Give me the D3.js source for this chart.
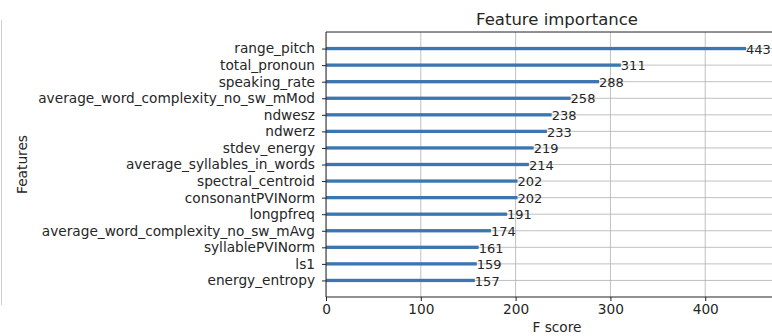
<!DOCTYPE html>
<html>
<head>
<meta charset="utf-8">
<script src="https://cdn.jsdelivr.net/npm/d3@7"></script>
<style>
  html, body { margin: 0; padding: 0; background: #fff; }
  svg { display: block; font-family: "DejaVu Sans", sans-serif; }
</style>
</head>
<body>
<svg id="chart" width="772" height="336"></svg>
<script>
// Feature names, top to bottom
const features = [
  "range_pitch", "total_pronoun", "speaking_rate",
  "average_word_complexity_no_sw_mMod", "ndwesz", "ndwerz",
  "stdev_energy", "average_syllables_in_words", "spectral_centroid",
  "consonantPVINorm", "longpfreq", "average_word_complexity_no_sw_mAvg",
  "syllablePVINorm", "ls1", "energy_entropy"
];
// F score per feature
const scores = [443, 311, 288, 258, 238, 233, 219, 214, 202, 202, 191, 174, 161, 159, 157];
const xTicks = [0, 100, 200, 300, 400];

const svg = d3.select("#chart");
const m = { left: 326, top: 32, right: 788, bottom: 297 };
const textColor = "#262626";
const gridColor = "#b0b0b0";
const fs = 13.7;

const x = d3.scaleLinear().domain([0, d3.max(scores) * 1.1]).range([m.left, m.right]);
// Index positions with one unit of padding on either end
const y = d3.scaleLinear().domain([-1, features.length]).range([m.top, m.bottom]);

// Thin divider on the far left
svg.append("line")
  .attr("x1", 1.5).attr("x2", 1.5).attr("y1", 20).attr("y2", 305)
  .attr("stroke", "#cfcfcf").attr("stroke-width", 1);

svg.append("defs").append("clipPath").attr("id", "plot-clip")
  .append("rect").attr("x", m.left).attr("y", m.top)
  .attr("width", m.right - m.left).attr("height", m.bottom - m.top);

const plot = svg.append("g").attr("clip-path", "url(#plot-clip)");

// Grid
plot.selectAll("line.vgrid").data(xTicks).join("line")
  .attr("class", "vgrid")
  .attr("x1", d => x(d)).attr("x2", d => x(d))
  .attr("y1", m.top).attr("y2", m.bottom)
  .attr("stroke", gridColor).attr("stroke-width", 0.8);
plot.selectAll("line.hgrid").data(features).join("line")
  .attr("class", "hgrid")
  .attr("x1", m.left).attr("x2", m.right)
  .attr("y1", (d, i) => y(i)).attr("y2", (d, i) => y(i))
  .attr("stroke", gridColor).attr("stroke-width", 0.8);

// Bars (height 0.2 units)
const barH = Math.abs(y(0.2) - y(0));
plot.selectAll("rect.bar").data(scores).join("rect")
  .attr("class", "bar")
  .attr("x", x(0))
  .attr("y", (d, i) => y(i) - barH / 2)
  .attr("width", d => x(d) - x(0))
  .attr("height", barH)
  .attr("fill", "#3b76b0");

// Value labels
svg.selectAll("text.val").data(scores).join("text")
  .attr("class", "val")
  .attr("x", d => x(d))
  .attr("y", (d, i) => y(i))
  .attr("dy", "0.4em")
  .attr("font-size", 13)
  .attr("fill", textColor)
  .text(d => d);

// Spines (left, top, bottom)
svg.append("line").attr("x1", m.left).attr("x2", m.left).attr("y1", m.top).attr("y2", m.bottom)
  .attr("stroke", "#222").attr("stroke-width", 1);
svg.append("line").attr("x1", m.left).attr("x2", m.right).attr("y1", m.top).attr("y2", m.top)
  .attr("stroke", "#222").attr("stroke-width", 1);
svg.append("line").attr("x1", m.left).attr("x2", m.right).attr("y1", m.bottom).attr("y2", m.bottom)
  .attr("stroke", "#222").attr("stroke-width", 1);

// Y axis
const yAxis = d3.axisLeft(d3.scaleOrdinal().domain(features).range(features.map((f, i) => y(i))))
  .tickSize(4).tickPadding(7);
const gy = svg.append("g").attr("transform", `translate(${m.left},0)`).call(yAxis);
gy.select(".domain").remove();
gy.selectAll("line").attr("stroke", "#222");
gy.selectAll("text").attr("font-size", fs).attr("fill", textColor)
  .attr("font-family", "DejaVu Sans, sans-serif");

// X axis
const xAxis = d3.axisBottom(x).tickValues(xTicks).tickSize(4).tickPadding(3.5)
  .tickFormat(d3.format("d"));
const gx = svg.append("g").attr("transform", `translate(0,${m.bottom})`).call(xAxis);
gx.select(".domain").remove();
gx.selectAll("line").attr("stroke", "#222");
gx.selectAll("text").attr("font-size", fs).attr("fill", textColor)
  .attr("font-family", "DejaVu Sans, sans-serif");

// Titles
const cx = (m.left + m.right) / 2;
svg.append("text").attr("x", cx).attr("y", 25)
  .attr("text-anchor", "middle").attr("font-size", 16.5).attr("fill", textColor)
  .text("Feature importance");
svg.append("text").attr("x", cx).attr("y", 332)
  .attr("text-anchor", "middle").attr("font-size", fs).attr("fill", textColor)
  .text("F score");
svg.append("text")
  .attr("transform", `translate(27,${(m.top + m.bottom) / 2}) rotate(-90)`)
  .attr("text-anchor", "middle").attr("font-size", fs).attr("fill", textColor)
  .text("Features");
</script>
</body>
</html>
